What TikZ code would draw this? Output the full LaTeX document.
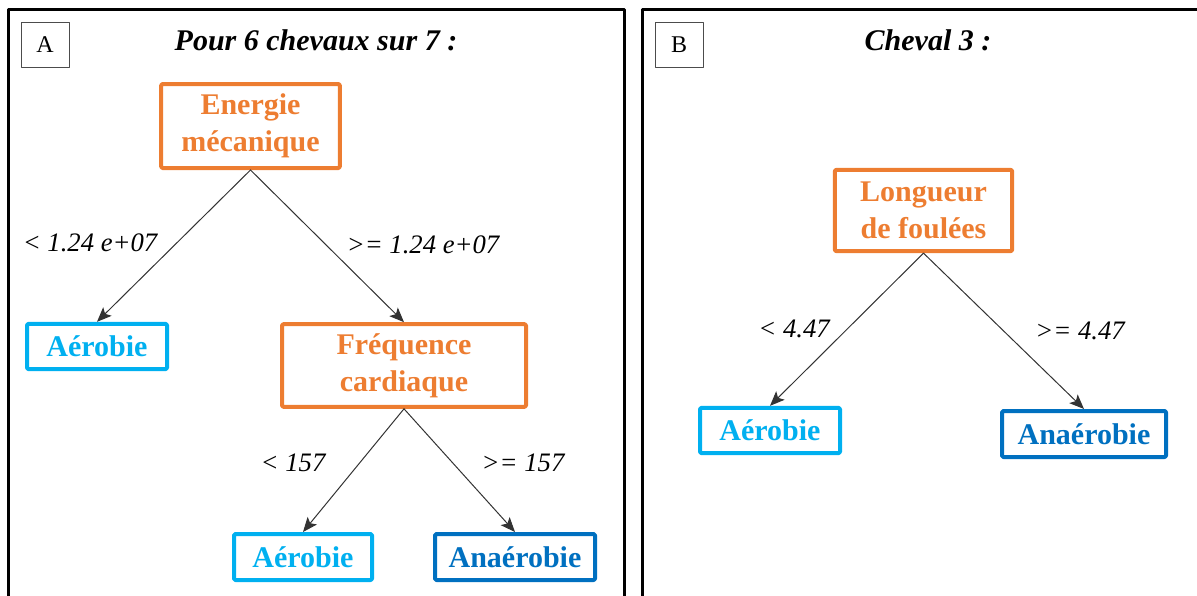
\documentclass[tikz,border=0pt]{standalone}
\usepackage{fontspec}
\setmainfont{Liberation Serif}
\usetikzlibrary{arrows.meta}
\definecolor{orangeTest}{HTML}{ED7D31}
\definecolor{blueAero}{HTML}{00B0F0}
\definecolor{blueAnaero}{HTML}{0070C0}

\begin{document}
\begin{tikzpicture}[x=0.75pt,y=-0.75pt, line cap=round, line join=round,
    panel/.style={line width=2.25pt},
    tag/.style={draw=black!70, thin, minimum width=36pt, minimum height=34pt,
        inner sep=0pt, font=\fontsize{18}{21}\selectfont},
    title/.style={font=\fontsize{22.5}{27}\selectfont\bfseries\itshape},
    test/.style={draw=orangeTest, text=orangeTest, line width=3pt, rounded corners=1pt,
        align=center, inner sep=0pt, font=\fontsize{22.5}{28}\selectfont\bfseries},
    aero/.style={test, draw=blueAero, text=blueAero, minimum width=105pt, minimum height=34pt},
    anaero/.style={test, draw=blueAnaero, text=blueAnaero, minimum height=34.5pt},
    branch/.style={draw=black!80, line width=0.75pt, -{Stealth[length=11pt,width=9pt,inset=2.5pt]}},
    cond/.style={font=\fontsize{20}{24}\selectfont\itshape}]
    \useasboundingbox (0,0) rectangle (1197,596);

    % Panels
    \draw[panel] (8,620) -- (8,9) -- (624,9) -- (624,620);
    \draw[panel] (642,620) -- (642,9) -- (1220,9);

    % Panel tags and titles
    \node[tag] (tagA) at (45,44.5) {A};
    \node[tag] (tagB) at (679,44.5) {B};
    \node[title] (titleA) at (316,40) {Pour 6 chevaux sur 7 :};
    \node[title] (titleB) at (928,40) {Cheval 3 :};

    % Tree A
    \node[test, minimum width=134pt, minimum height=63pt] (energie) at (250.5,126) {Energie\\mécanique};
    \node[aero] (aeroA1) at (97,346.5) {Aérobie};
    \node[test, minimum width=183pt, minimum height=62pt] (freq) at (404,365.5) {Fréquence\\cardiaque};
    \node[aero, minimum width=103.5pt, minimum height=34.5pt] (aeroA2) at (303,557) {Aérobie};
    \node[anaero, minimum width=120pt] (anaeroA) at (515,557) {Anaérobie};

    \draw[branch] (energie.south) -- (aeroA1.north);
    \draw[branch] (energie.south) -- (freq.north);
    \draw[branch] (freq.south) -- (aeroA2.north);
    \draw[branch] (freq.south) -- (anaeroA.north);

    \node[cond] (condE1) at (90,243) {< 1.24 e+07};
    \node[cond] (condE2) at (423,245) {>= 1.24 e+07};
    \node[cond] (condF1) at (293,463) {< 157};
    \node[cond] (condF2) at (523,463) {>= 157};

    % Tree B
    \node[test, minimum width=133pt, minimum height=61pt] (longueur) at (923.5,210.5) {Longueur\\de foulées};
    \node[aero] (aeroB) at (770,430.5) {Aérobie};
    \node[anaero, minimum width=123pt] (anaeroB) at (1084,434) {Anaérobie};

    \draw[branch] (longueur.south) -- (aeroB.north);
    \draw[branch] (longueur.south) -- (anaeroB.north);

    \node[cond] (condL1) at (794,329) {< 4.47};
    \node[cond] (condL2) at (1080,331) {>= 4.47};
\end{tikzpicture}
\end{document}
